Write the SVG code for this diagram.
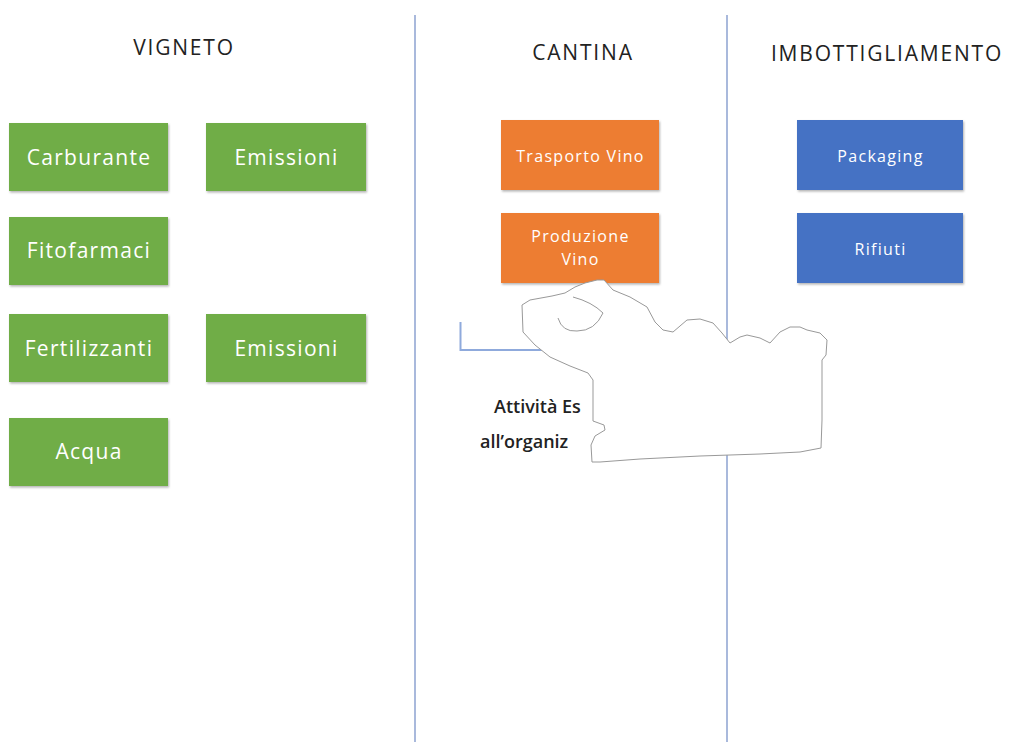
<svg xmlns="http://www.w3.org/2000/svg" width="1010" height="742" viewBox="0 0 1010 742">
<defs>
<filter id="sh" x="-5%" y="-5%" width="110%" height="115%">
<feDropShadow dx="1" dy="1.5" stdDeviation="1" flood-color="#000" flood-opacity="0.3"/>
</filter>
</defs>
<style>
.hdr{font-family:"Open Sans","Liberation Sans",sans-serif;font-size:21px;letter-spacing:1.8px;fill:#222;text-anchor:middle}
.g{fill:#70ad47;filter:url(#sh)}
.o{fill:#ed7d31;filter:url(#sh)}
.b{fill:#4472c4;filter:url(#sh)}
.t{font-family:"Open Sans","Liberation Sans",sans-serif;fill:#fff;text-anchor:middle}
.big{font-size:21px;letter-spacing:1.3px}
.sm{font-size:16px;letter-spacing:1.3px}
.sep{stroke:#a9b9dc;stroke-width:2;fill:none}
.lab{font-family:"Open Sans","Liberation Sans",sans-serif;font-size:18px;font-weight:600;fill:#222}
</style>
<rect width="1010" height="742" fill="#fff"/>
<g id="separators">
<line class="sep" x1="415" y1="15" x2="415" y2="742"/>
<line class="sep" x1="727" y1="15" x2="727" y2="742"/>
</g>
<g id="headers">
<text class="hdr" x="184" y="55">VIGNETO</text>
<text class="hdr" x="583" y="60">CANTINA</text>
<text class="hdr" x="887" y="61">IMBOTTIGLIAMENTO</text>
</g>
<g id="n-carburante"><rect class="g" x="9" y="123" width="159" height="68"/><text class="t big" x="89" y="165">Carburante</text></g>
<g id="n-emissioni1"><rect class="g" x="206" y="123" width="160" height="68"/><text class="t big" x="286.5" y="165">Emissioni</text></g>
<g id="n-fitofarmaci"><rect class="g" x="9" y="217" width="159" height="68"/><text class="t big" x="89" y="258">Fitofarmaci</text></g>
<g id="n-fertilizzanti"><rect class="g" x="9" y="314" width="159" height="68"/><text class="t big" x="89" y="356">Fertilizzanti</text></g>
<g id="n-emissioni2"><rect class="g" x="206" y="314" width="160" height="68"/><text class="t big" x="286.5" y="356">Emissioni</text></g>
<g id="n-acqua"><rect class="g" x="9" y="418" width="159" height="68"/><text class="t big" x="89" y="459">Acqua</text></g>
<g id="n-trasporto"><rect class="o" x="501" y="120" width="158" height="70"/><text class="t sm" x="580.5" y="162">Trasporto Vino</text></g>
<g id="n-produzione"><rect class="o" x="501" y="213" width="158" height="70"/><text class="t sm" x="580.5" y="242">Produzione</text><text class="t sm" x="580.5" y="265">Vino</text></g>
<g id="n-packaging"><rect class="b" x="797" y="120" width="166" height="70"/><text class="t sm" x="880.5" y="162">Packaging</text></g>
<g id="n-rifiuti"><rect class="b" x="797" y="213" width="166" height="70"/><text class="t sm" x="880.5" y="255">Rifiuti</text></g>
<g id="connectors">
<path d="M460.5 322 V350 H550" stroke="#8faadc" stroke-width="2" fill="none"/>
</g>
<g id="external-label">
<text class="lab" x="494" y="413">Attività Es</text>
<text class="lab" x="480" y="448">all’organiz</text>
</g>
<g id="blob">
<path d="M597 280 L604 280 L613 290 L630 297 L647 307 L655 322 L663 330 L673 332 L687 320 L700 319 L713 323 L722 333 L730 343 L740 337 L747 335 L760 338 L770 343 L780 332 L790 327 L800 327 L807 330 L820 333 L827 340 L826 355 L822 360 L822 420 L821 448 L800 452 L760 454 L700 456 L640 459 L600 462 L592 462 L591 445 L595 436 L605 430 L604 425 L593 421 L593 380 L588 373 L570 366 L550 357 L535 345 L523 332 L522 305 L530 300 L552 296 L565 293 L575 287 L585 283 Z" fill="#fff" stroke="#999" stroke-width="1"/>
<path d="M558 318 Q562 332 577 331 Q595 331 603 313 M573 297 Q592 302 603 313" fill="none" stroke="#999" stroke-width="1"/>
</g>
</svg>
